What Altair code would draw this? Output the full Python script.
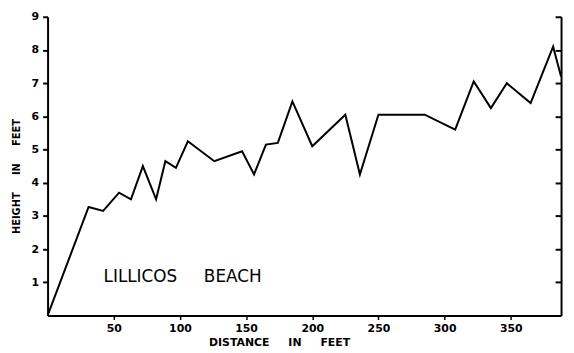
import altair as alt
import pandas as pd

distance = [0, 31, 42, 54, 63, 72, 82, 89, 97, 106, 126, 147, 156, 165, 174, 185, 200, 225, 236, 250, 285, 308, 322, 335, 347, 365, 382, 388]
height = [0, 3.27, 3.15, 3.7, 3.5, 4.5, 3.5, 4.65, 4.45, 5.25, 4.65, 4.95, 4.25, 5.15, 5.2, 6.45, 5.1, 6.05, 4.25, 6.05, 6.05, 5.6, 7.05, 6.25, 7.0, 6.4, 8.1, 7.2]
x_ticks = [50, 100, 150, 200, 250, 300, 350]
y_ticks = [1, 2, 3, 4, 5, 6, 7, 8, 9]
NB = "\u00a0"
label_text = ["LILLICOS" + NB * 5 + "BEACH"]
label_x = [102]
label_y = [1.16]
x_title = "DISTANCE" + NB * 5 + "IN" + NB * 5 + "FEET"
y_title = "HEIGHT" + NB * 5 + "IN" + NB * 5 + "FEET"

df = pd.DataFrame({"d": distance, "h": height})
lab = pd.DataFrame({"t": label_text, "x": label_x, "y": label_y})

FONT = "DejaVu Sans"
xs = alt.Scale(domain=[0, 388], nice=False, zero=False)
ys = alt.Scale(domain=[0, 9], nice=False)

line = alt.Chart(df).mark_line(color="black", strokeWidth=2).encode(
    x=alt.X("d:Q", scale=xs, axis=alt.Axis(
        values=x_ticks, title=x_title, grid=False,
        domainColor="black", domainWidth=2, tickColor="black", tickSize=4, tickWidth=1.5,
        labelFont=FONT, labelFontWeight="bold", labelFontSize=11, labelColor="black",
        labelPadding=3, titleFont=FONT, titleFontWeight="bold", titleFontSize=11,
        titleColor="black", titlePadding=3, titleX=234)),
    y=alt.Y("h:Q", scale=ys, axis=alt.Axis(
        values=y_ticks, title=y_title, grid=False,
        domainColor="black", domainWidth=2, tickColor="black", tickSize=5, tickWidth=2,
        labelFont=FONT, labelFontWeight="bold", labelFontSize=11, labelColor="black",
        labelPadding=4, titleFont=FONT, titleFontWeight="bold", titleFontSize=10,
        titleColor="black", titlePadding=10, titleY=161)),
)

right = alt.Chart(df).mark_line(opacity=0).encode(
    x=alt.X("d:Q", scale=xs),
    y=alt.Y("h:Q", scale=ys, axis=alt.Axis(
        orient="left", offset=-519, values=y_ticks, labels=False, title=None, grid=False,
        domainColor="black", domainWidth=2, tickColor="black", tickSize=6, tickWidth=2)),
)

text = alt.Chart(lab).mark_text(font=FONT, fontSize=17, color="black", align="center",
                                baseline="middle").encode(
    x=alt.X("x:Q", scale=xs), y=alt.Y("y:Q", scale=ys, axis=None), text="t:N")

chart = alt.layer(line, right, text).resolve_axis(y="independent").properties(
    width=519, height=302,
    autosize=alt.AutoSizeParams(type="none"),
    padding={"left": 40, "top": 7, "right": 5, "bottom": 36},
    background="white",
).configure_view(stroke=None)

chart.save("out.html", embed_options={"renderer": "svg", "actions": False})
